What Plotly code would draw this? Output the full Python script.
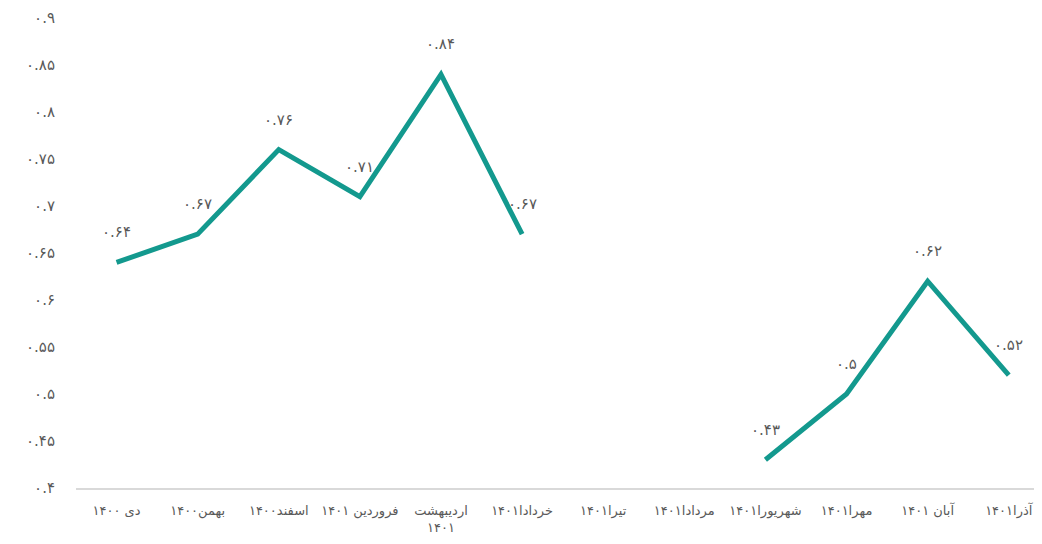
import plotly.graph_objects as go

categories = ["دی ۱۴۰۰", "بهمن۱۴۰۰", "اسفند۱۴۰۰", "فروردین ۱۴۰۱", "اردیبهشت<br>۱۴۰۱",
              "خردادا۱۴۰۱", "تیرا۱۴۰۱", "مردادا۱۴۰۱", "شهریورا۱۴۰۱", "مهرا۱۴۰۱",
              "آبان ۱۴۰۱", "آذرا۱۴۰۱"]
values = [0.64, 0.67, 0.76, 0.71, 0.84, 0.67, None, None, 0.43, 0.50, 0.62, 0.52]
value_labels = ["۰.۶۴", "۰.۶۷", "۰.۷۶", "۰.۷۱", "۰.۸۴", "۰.۶۷", "", "", "۰.۴۳", "۰.۵", "۰.۶۲", "۰.۵۲"]
y_tickvals = [0.4, 0.45, 0.5, 0.55, 0.6, 0.65, 0.7, 0.75, 0.8, 0.85, 0.9]
y_ticktext = ["۰.۴", "۰.۴۵", "۰.۵", "۰.۵۵", "۰.۶", "۰.۶۵", "۰.۷", "۰.۷۵", "۰.۸", "۰.۸۵", "۰.۹"]

FONT = "DejaVu Sans, Noto Sans, sans-serif"
xs = list(range(len(categories)))

fig = go.Figure()
fig.add_trace(go.Scatter(
    x=xs, y=values, mode="lines",
    line=dict(color="#13998e", width=5),
    connectgaps=False, hoverinfo="skip",
))

for x, v, t in zip(xs, values, value_labels):
    if v is None:
        continue
    fig.add_annotation(x=x, y=v, text=t, showarrow=False, yshift=30,
                       font=dict(family=FONT, size=15, color="#595959"))

fig.update_layout(
    width=1034, height=536,
    margin=dict(l=68, r=0, t=10, b=56),
    paper_bgcolor="white", plot_bgcolor="white",
    showlegend=False,
    font=dict(family=FONT, size=13, color="#595959"),
)
fig.update_xaxes(
    tickmode="array", tickvals=xs, ticktext=categories,
    range=[-0.5, 11.41], showgrid=False, zeroline=False,
    showline=True, linecolor="#d9d9d9", linewidth=1.5,
    ticks="", ticklabelstandoff=10,
    tickfont=dict(family=FONT, size=13, color="#595959"),
)
fig.update_yaxes(
    tickmode="array", tickvals=y_tickvals, ticktext=y_ticktext,
    range=[0.4, 0.9], showgrid=False, zeroline=False, showline=False,
    ticks="", ticklabelstandoff=20,
    tickfont=dict(family=FONT, size=15, color="#595959"),
)

fig.write_html("out.html")
